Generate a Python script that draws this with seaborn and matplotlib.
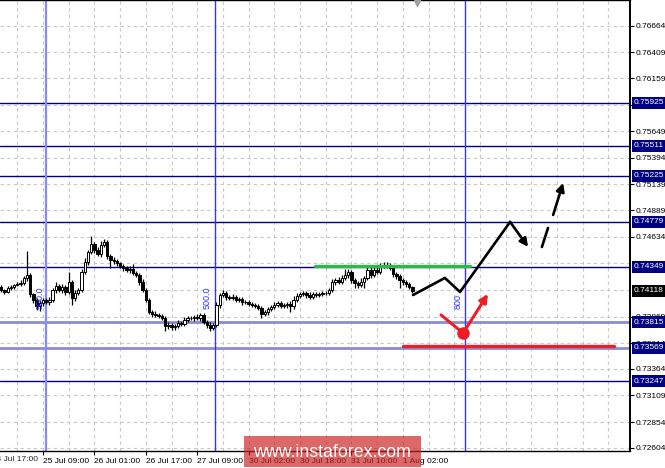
import numpy as np
import pandas as pd
import matplotlib
matplotlib.use("Agg")
import matplotlib.pyplot as plt
import seaborn as sns
from matplotlib.patches import Rectangle
from matplotlib.transforms import blended_transform_factory

# hourly closes, 24 Jul 20:00 .. 1 Aug 05:00
closes = [
    0.74124, 0.74105, 0.74143, 0.74153, 0.74172, 0.74182, 0.74191, 0.74239, 0.74268, 0.74086,
    0.74028, 0.73970, 0.73999, 0.74028, 0.74009, 0.74028, 0.74124, 0.74162, 0.74124, 0.74153,
    0.74105, 0.74201, 0.74047, 0.74095, 0.74124, 0.74297, 0.74393, 0.74490, 0.74567, 0.74509,
    0.74470, 0.74557, 0.74586, 0.74451, 0.74413, 0.74403, 0.74384, 0.74355, 0.74336, 0.74316,
    0.74326, 0.74288, 0.74268, 0.74201, 0.74124, 0.74028, 0.73912, 0.73893, 0.73883, 0.73874,
    0.73855, 0.73778, 0.73787, 0.73768, 0.73778, 0.73807, 0.73797, 0.73836, 0.73855, 0.73855,
    0.73864, 0.73855, 0.73883, 0.73816, 0.73787, 0.73758, 0.73787, 0.73980, 0.74076, 0.74095,
    0.74057, 0.74047, 0.74057, 0.74028, 0.74037, 0.74009, 0.74009, 0.73989, 0.73980, 0.73970,
    0.73951, 0.73893, 0.73912, 0.73941, 0.73960, 0.73980, 0.73999, 0.73970, 0.73980, 0.73989,
    0.73970, 0.74028, 0.74066, 0.74086, 0.74095, 0.74076, 0.74057, 0.74086, 0.74076, 0.74086,
    0.74095, 0.74095, 0.74124, 0.74201, 0.74220, 0.74201, 0.74239, 0.74268, 0.74297, 0.74220,
    0.74191, 0.74172, 0.74201, 0.74239, 0.74316, 0.74268, 0.74316, 0.74297, 0.74355, 0.74365,
    0.74355, 0.74336, 0.74278, 0.74259, 0.74220, 0.74201, 0.74182, 0.74153, 0.74118,
]
first_open = 0.74153
# wick lengths in pips above / below the body
upper_pips = [
    2, 1, 2, 2, 1, 2, 3, 2, 23, 2,
    1, 2, 3, 2, 2, 3, 2, 4, 2, 3,
    2, 10, 2, 3, 2, 3, 4, 2, 8, 2,
    3, 4, 3, 2, 2, 3, 2, 1, 2, 2,
    3, 5, 2, 2, 3, 2, 2, 2, 3, 2,
    2, 2, 3, 2, 2, 3, 2, 3, 2, 2,
    2, 3, 2, 2, 2, 3, 2, 3, 2, 3,
    2, 2, 3, 2, 2, 2, 2, 2, 2, 2,
    2, 2, 2, 2, 2, 3, 2, 2, 2, 2,
    3, 4, 3, 2, 2, 2, 3, 2, 2, 2,
    2, 2, 2, 3, 2, 3, 3, 6, 3, 2,
    2, 2, 4, 2, 3, 3, 4, 3, 3, 3,
    3, 3, 2, 2, 2, 2, 2, 2, 1,
]
lower_pips = [
    2, 2, 1, 2, 2, 1, 2, 2, 3, 3,
    3, 4, 5, 3, 2, 3, 2, 3, 2, 3,
    3, 2, 7, 3, 2, 2, 2, 3, 2, 3,
    2, 3, 2, 3, 8, 3, 3, 2, 3, 2,
    3, 2, 2, 3, 2, 2, 2, 3, 2, 2,
    2, 5, 3, 3, 3, 2, 2, 2, 2, 2,
    3, 2, 3, 2, 3, 3, 2, 2, 3, 2,
    3, 2, 2, 2, 2, 3, 2, 2, 2, 2,
    2, 4, 2, 3, 2, 2, 2, 2, 2, 3,
    6, 3, 2, 2, 2, 3, 2, 2, 2, 2,
    2, 2, 2, 2, 3, 2, 2, 2, 3, 3,
    5, 3, 2, 6, 2, 3, 2, 2, 2, 2,
    2, 2, 3, 3, 8, 3, 3, 2, 2,
]

time_labels = ["24 Jul 17:00", "25 Jul 09:00", "26 Jul 01:00", "26 Jul 17:00", "27 Jul 09:00",
               "30 Jul 02:00", "30 Jul 18:00", "31 Jul 10:00", "1 Aug 02:00"]
time_label_bars = [-3, 13, 29, 45, 61, 77, 93, 109, 125]

# price scale labels (the ones fully under the level boxes are left out)
price_ticks = [0.76664, 0.76409, 0.76159, 0.75904, 0.75649, 0.75394, 0.75139, 0.74889, 0.74634,
               0.73869, 0.73614, 0.73364, 0.73109, 0.72854, 0.72604]
grid_prices = price_ticks + [0.74379, 0.74124]
levels_dark = [0.75925, 0.75511, 0.75225, 0.74779, 0.74349, 0.73247]
levels_light = [0.73815, 0.73569]
current_price = 0.74118

vline_bars = [13.9, 66.5, 144.4]
vline_colors = ["#8888ff", "#3333ff", "#3333ff"]
vline_texts = ["500.0", "500.0", "800"]
vline_text_bars = [12.1, 64.1, 142.2]
vline_text_prices = [0.74047, 0.74047, 0.74018]

green_bars = [97.7, 145.9]
green_price = 0.74357
red_bars = [125.1, 190.7]
red_price = 0.73585

# forecast sketch
zig_bars = [128.2, 138.1, 142.8, 158.4]
zig_prices = [0.74076, 0.74240, 0.74105, 0.74779]
zig_arrow_end = (164.0, 0.74538)
dash_piece = ([168.3, 170.2], [0.74538, 0.74721])
dash_arrow = ((171.8, 0.74846), (174.9, 0.75154))
red_stroke = ([136.9, 143.7], [0.73884, 0.73711])
red_dot = (143.7, 0.73711)
red_arrow = ((144.4, 0.73740), (151.5, 0.74086))

sns.set_style("white")
plt.rcParams["font.family"] = ["Liberation Sans", "DejaVu Sans"]
plt.rcParams["savefig.bbox"] = "standard"

fig = plt.figure(figsize=(6.65, 4.68), dpi=100)
ax = fig.add_axes([0.0, 17 / 468, 630 / 665, 451 / 468])

bars = np.arange(len(closes))
c = np.array(closes)
o = np.concatenate([[first_open], c[:-1]])
top = np.maximum(o, c)
bot = np.minimum(o, c)
highs = top + np.array(upper_pips) * 0.0001
lows = bot - np.array(lower_pips) * 0.0001
up = c >= o
body = np.maximum(top - bot, 0.00003)

ax.vlines(bars, lows, highs, color="black", lw=0.9, zorder=3)
ax.bar(bars[up], body[up], bottom=bot[up], width=0.72,
       color="white", edgecolor="black", linewidth=0.7, zorder=4)
ax.bar(bars[~up], body[~up], bottom=bot[~up], width=0.72,
       color="black", edgecolor="black", linewidth=0.7, zorder=4)

# grid
dash = (0, (3, 3))
for b in range(5, 196, 8):
    ax.axvline(b, color="#c8c8c8", lw=0.8, ls=dash, zorder=1)
for p in grid_prices:
    ax.axhline(p, color="#c8c8c8", lw=0.8, ls=dash, zorder=1)

for lv in levels_dark:
    ax.axhline(lv, color="#000080", lw=1.0, zorder=2)
for lv in levels_light:
    ax.axhline(lv, color="#8c8cd0", lw=2.0, zorder=2)
for b, col in zip(vline_bars, vline_colors):
    ax.axvline(b, color=col, lw=1.6 if col == "#8888ff" else 1.0, zorder=2)
for t, b, p in zip(vline_texts, vline_text_bars, vline_text_prices):
    ax.text(b, p, t, rotation=90, color="#3333ff", fontsize=6.5, ha="center", va="center", zorder=6)

ax.plot(green_bars, [green_price] * 2, color="#2fb84a", lw=2.4, zorder=5)
ax.plot(red_bars, [red_price] * 2, color="#e8202a", lw=2.4, zorder=5)

sns.lineplot(x=zig_bars, y=zig_prices, sort=False, color="black", lw=1.9, ax=ax, zorder=7)
ax.annotate("", xy=zig_arrow_end, xytext=(zig_bars[-1], zig_prices[-1]),
            arrowprops=dict(arrowstyle="-|>", color="black", lw=1.9, mutation_scale=12,
                            shrinkA=0, shrinkB=0), zorder=7)
ax.plot(*dash_piece, color="black", lw=1.9, zorder=7)
ax.annotate("", xy=dash_arrow[1], xytext=dash_arrow[0],
            arrowprops=dict(arrowstyle="-|>", color="black", lw=1.9, mutation_scale=12,
                            shrinkA=0, shrinkB=0), zorder=7)

ax.plot(*red_stroke, color="#ee1c25", lw=2.2, zorder=7)
ax.plot(*red_dot, "o", color="#ee1c25", ms=8, zorder=7)
ax.annotate("", xy=red_arrow[1], xytext=red_arrow[0],
            arrowprops=dict(arrowstyle="-|>", color="#ee1c25", lw=2.2, mutation_scale=12,
                            shrinkA=0, shrinkB=0), zorder=7)

ax.set_xlim(-0.386, 195.72)
ax.set_ylim(0.72575, 0.76914)
ax.plot(129.4, 0.76885, marker="v", color="#a0a0a0", ms=5, zorder=6)

ax.yaxis.tick_right()
ax.set_yticks(price_ticks)
ax.set_yticklabels([f"{p:.5f}" for p in price_ticks])
ax.set_xticks(time_label_bars[1:])
ax.set_xticklabels(time_labels[1:], ha="left")
ax.tick_params(axis="y", right=True, length=3, width=0.8, pad=1, labelsize=6, colors="black")
ax.tick_params(axis="x", bottom=True, length=3, width=0.8, pad=2, labelsize=6, colors="black")
for s in ["top", "right", "bottom"]:
    ax.spines[s].set_color("black")
    ax.spines[s].set_linewidth(1.0)
ax.spines["left"].set_visible(False)
ax.spines["right"].set_linewidth(1.4)

# first time label sits partly off the left edge
ax.text(time_label_bars[0], -0.018, time_labels[0], transform=blended_transform_factory(ax.transData, ax.transAxes),
        ha="left", va="center", fontsize=6, clip_on=False)

tr = blended_transform_factory(ax.transAxes, ax.transData)
for lv in levels_dark + levels_light:
    ax.text(1.0 + 4 / 630, lv, f"{lv:.5f}", transform=tr, ha="left", va="center", color="white",
            fontsize=6, clip_on=False, zorder=8,
            bbox=dict(boxstyle="square,pad=0.3", fc="#000080", ec="none"))
ax.text(1.0 + 4 / 630, current_price, f"{current_price:.5f}", transform=tr, ha="left",
        va="center", color="white", fontsize=6, clip_on=False, zorder=8,
        bbox=dict(boxstyle="square,pad=0.3", fc="black", ec="none"))

fig.patches.append(Rectangle((244 / 665, 1 / 468), 177 / 665, 31 / 468, transform=fig.transFigure,
                             facecolor="#cc2222", alpha=0.68, edgecolor="none", zorder=10))
fig.text(332 / 665, 15.5 / 468, "www.instaforex.com", color="white", fontsize=12.8,
         ha="center", va="center", zorder=11)

fig.savefig("out.png", dpi=100, facecolor="white")
